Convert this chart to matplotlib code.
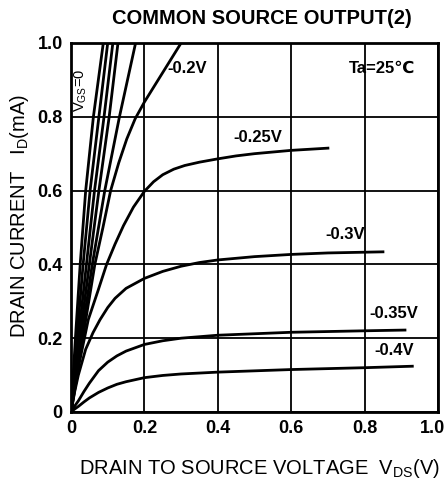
import matplotlib
matplotlib.use('Agg')
import matplotlib.pyplot as plt
from matplotlib.transforms import ScaledTranslation

plt.rcParams['font.family'] = ['Liberation Sans', 'DejaVu Sans']

# drain current curves, Vds [V] / Id [mA]
vds_0 = [0, 0.012, 0.025, 0.040, 0.061, 0.088]
id_0 = [0, 0.2, 0.4, 0.6, 0.8, 1.0]
vds_1 = [0, 0.016, 0.033, 0.052, 0.076, 0.100]
id_1 = [0, 0.2, 0.4, 0.6, 0.8, 1.0]
vds_2 = [0, 0.020, 0.042, 0.064, 0.090, 0.114]
id_2 = [0, 0.2, 0.4, 0.6, 0.8, 1.0]
vds_3 = [0, 0.024, 0.050, 0.076, 0.104, 0.128]
id_3 = [0, 0.2, 0.4, 0.6, 0.8, 1.0]
vds_4 = [0, 0.028, 0.058, 0.092, 0.132, 0.176]
id_4 = [0, 0.2, 0.4, 0.6, 0.8, 1.0]

vds_02 = [0, 0.032, 0.065, 0.087, 0.108, 0.130, 0.152, 0.175, 0.200, 0.225, 0.250, 0.275, 0.300]
id_02 = [0, 0.2, 0.4, 0.5, 0.6, 0.675, 0.74, 0.795, 0.84, 0.88, 0.92, 0.96, 1.0]

vds_025 = [0, 0.022, 0.047, 0.074, 0.097, 0.120, 0.143, 0.170, 0.200, 0.225, 0.250,
           0.280, 0.310, 0.350, 0.400, 0.450, 0.500, 0.600, 0.700]
id_025 = [0, 0.13, 0.25, 0.33, 0.40, 0.455, 0.505, 0.555, 0.598, 0.624, 0.643,
          0.658, 0.668, 0.677, 0.686, 0.694, 0.700, 0.709, 0.715]

vds_03 = [0, 0.010, 0.020, 0.040, 0.060, 0.079, 0.100, 0.120, 0.150, 0.200, 0.250,
          0.300, 0.350, 0.400, 0.500, 0.600, 0.700, 0.850]
id_03 = [0, 0.055, 0.10, 0.17, 0.215, 0.25, 0.283, 0.308, 0.335, 0.362, 0.381,
         0.395, 0.405, 0.412, 0.421, 0.427, 0.431, 0.434]

vds_035 = [0, 0.010, 0.020, 0.035, 0.050, 0.075, 0.100, 0.125, 0.150, 0.200, 0.250,
           0.300, 0.400, 0.500, 0.600, 0.800, 0.910]
id_035 = [0, 0.016, 0.030, 0.055, 0.078, 0.112, 0.135, 0.152, 0.165, 0.183, 0.193,
          0.200, 0.208, 0.212, 0.216, 0.220, 0.222]

vds_04 = [0, 0.010, 0.020, 0.035, 0.050, 0.075, 0.100, 0.125, 0.150, 0.200, 0.250,
          0.300, 0.400, 0.600, 0.800, 0.930]
id_04 = [0, 0.008, 0.015, 0.027, 0.038, 0.053, 0.065, 0.075, 0.082, 0.093, 0.099,
         0.103, 0.108, 0.115, 0.120, 0.124]

curves = [(vds_0, id_0), (vds_1, id_1), (vds_2, id_2), (vds_3, id_3), (vds_4, id_4),
          (vds_02, id_02), (vds_025, id_025), (vds_03, id_03), (vds_035, id_035), (vds_04, id_04)]

ticks = [0, 0.2, 0.4, 0.6, 0.8, 1.0]
tick_labels = ['0', '0.2', '0.4', '0.6', '0.8', '1.0']

fig = plt.figure(figsize=(4.48, 4.84), dpi=100)
ax = fig.add_axes([0.1585, 0.1488, 0.8192, 0.7624])

for vds, idr in curves:
    ax.plot(vds, idr, color='black', linewidth=2.0, solid_joinstyle='round')

ax.set_xlim(0, 1.0)
ax.set_ylim(0, 1.0)
ax.set_xticks(ticks)
ax.set_yticks(ticks)
ax.set_xticklabels(tick_labels, fontsize=13, fontweight='bold')
ax.set_yticklabels(tick_labels, fontsize=13, fontweight='bold')
ax.tick_params(length=0, pad=6)
ax.grid(True, color='black', linewidth=1.3)
for s in ax.spines.values():
    s.set_linewidth(2.0)

# last x label sits right at the edge, nudge it in a bit
last = ax.get_xticklabels()[-1]
last.set_transform(last.get_transform() + ScaledTranslation(-4 / 72, 0, fig.dpi_scale_trans))

# curve labels
ax.text(0.026, 0.873, r'V$_\mathregular{GS}$=0', rotation=90, fontsize=10.5,
        ha='center', va='center')
ax.text(0.262, 0.93, '-0.2V', fontsize=12, fontweight='bold', va='center')
ax.text(0.442, 0.744, '-0.25V', fontsize=12, fontweight='bold', va='center')
ax.text(0.692, 0.482, '-0.3V', fontsize=12, fontweight='bold', va='center')
ax.text(0.812, 0.266, '-0.35V', fontsize=12, fontweight='bold', va='center')
ax.text(0.826, 0.166, '-0.4V', fontsize=12, fontweight='bold', va='center')
ax.text(0.847, 0.932, 'Ta=25\u2103', fontsize=12, fontweight='bold', ha='center', va='center')

fig.text(0.584, 0.962, 'COMMON SOURCE OUTPUT(2)', fontsize=14.5, fontweight='bold',
         ha='center', va='center')
fig.text(0.58, 0.033, r'DRAIN TO SOURCE VOLTAGE  V$_\mathregular{DS}$(V)', fontsize=14.5,
         ha='center', va='center')
fig.text(0.043, 0.553, r'DRAIN CURRENT   I$_\mathregular{D}$(mA)', fontsize=14.5,
         rotation=90, ha='center', va='center')

fig.savefig('out.png', dpi=100)
